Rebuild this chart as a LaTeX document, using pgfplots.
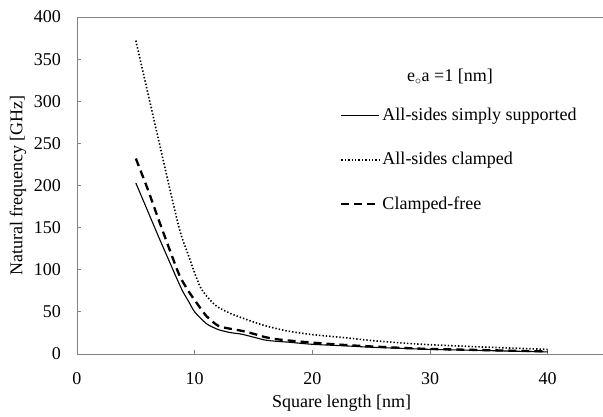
\documentclass[border=0pt]{standalone}
\usepackage{fontspec}
\setmainfont{Liberation Serif}
\usepackage{pgfplots}
\pgfplotsset{compat=1.18}

\definecolor{axgray}{RGB}{130,130,130}

\begin{document}
\begin{tikzpicture}
\fontsize{18}{21.6}\selectfont
\path[use as bounding box] (-77pt,-63pt) rectangle (526pt,354pt);
\begin{axis}[
    name=ax,
    scale only axis,
    width=526pt, height=337pt,
    xmin=0, xmax=44.7,
    ymin=0, ymax=400,
    xtick={0,10,20,30,40},
    ytick={0,50,100,150,200,250,300,350,400},
    axis x line*=bottom,
    axis y line*=left,
    axis line style={axgray, line width=0.9pt, -},
    tick style={axgray, line width=0.8pt},
    tick align=inside,
    major tick length=4pt,
    font=\fontsize{18}{21.6}\selectfont,
    /pgf/number format/assume math mode=true,
    xticklabel style={yshift=-12pt},
    yticklabel style={xshift=-10pt},
    xlabel={Square length [nm]},
    ylabel={Natural frequency [GHz]},
    xlabel style={at={(axis description cs:0.503,-0.145)}, anchor=center},
    ylabel style={at={(axis description cs:-0.1122,0.5)}, anchor=center, rotate=0},
    legend style={draw=none, fill=none, at={(axis cs:22.35,294.4)}, anchor=north west,
        inner sep=0pt, row sep=25pt, font=\fontsize{18}{21.6}\selectfont},
    legend cell align=left,
    legend image code/.code={\draw[#1] (0pt,0pt) -- (38pt,0pt);},
    clip=false,
]
\addplot[black, line width=1.1pt, smooth, tension=0.4] coordinates {
    (5,203)(6,170)(7,137)(8,105)(8.5,89)(9,74)(9.5,62)(10,50)(11,36)(12,29)
    (13,25.5)(14,23.5)(15,20)(16,16.5)(17,15)(18,14)(20,11.5)(23,9.5)(25,8)
    (28,6.5)(30,5.5)(35,4)(40,2.5)
};
\addlegendentry{All-sides simply supported}
\addplot[black, line width=1.6pt, dash pattern=on 1.4pt off 2pt, smooth, tension=0.4] coordinates {
    (5,372)(6,311)(7,250)(8,189)(8.67,150)(9,135)(9.5,116)(10,96)(10.5,79)(11,69)
    (11.6,60)(12,55.5)(13,48.3)(14,43)(15,38)(16,33.5)(17,30)(18,27)(20,23)
    (23,19)(25,16)(28,12.7)(30,11)(35,8)(40,5.5)
};
\addlegendentry{All-sides clamped}
\addplot[black, line width=2.3pt, dash pattern=on 8pt off 5pt, smooth, tension=0.4] coordinates {
    (5,232)(6,196)(7,157)(8,119)(8.75,92)(9.5,74)(10,64)(11,45)(12,33.5)(13,30)
    (14,27.5)(15,24)(16,20)(17,17.5)(18,16)(20,13.5)(23,10.5)(25,9)(28,7)
    (30,6)(35,4.5)(40,3)
};
\addlegendentry{Clamped-free}
\node[anchor=center] at (axis cs:31.7,328.8) {e$_{\circ}$a =1 [nm]};
\draw[axgray, line width=0.9pt] (rel axis cs:0,1) -- (rel axis cs:1,1);
\end{axis}
\end{tikzpicture}
\end{document}
